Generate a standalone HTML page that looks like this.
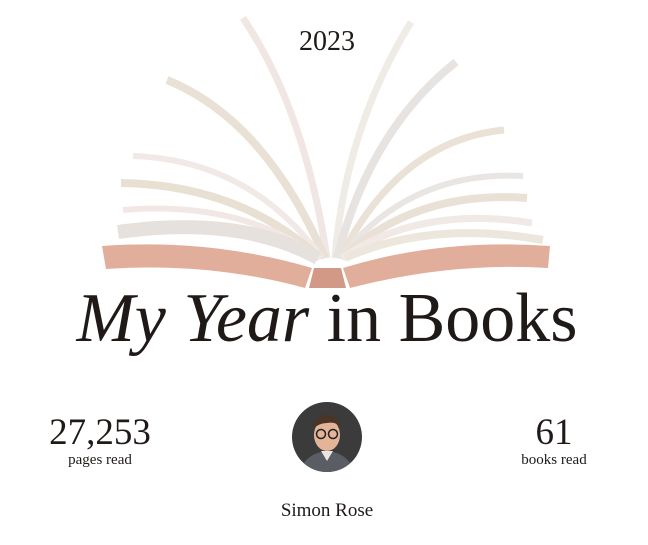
<!DOCTYPE html>
<html><head><meta charset="utf-8"><style>
body{margin:0;width:648px;height:545px;background:#fff;overflow:hidden;font-family:"Liberation Serif",serif;color:#1f1a17;position:relative}
.t{position:absolute;white-space:nowrap;text-align:center}
</style></head><body>
<svg width="648" height="300" style="position:absolute;left:0;top:0" fill="none" stroke-linecap="butt">
<g stroke-width="7">
<path d="M243,18 Q305,110 327,258" stroke="#f0e6e3"/>
<path d="M167,80 Q265,120 325,258" stroke="#eae1d6" stroke-width="8"/>
<path d="M133,156 Q250,160 322,258" stroke="#f1e9e6" stroke-width="6"/>
<path d="M121,183 Q240,185 320,258" stroke="#e9e0d4" stroke-width="8"/>
<path d="M123,210 Q240,200 320,258" stroke="#f1e7e4" stroke-width="6"/>
<path d="M118,232 Q240,215 318,258" stroke="#e6e1dd" stroke-width="14"/>
<path d="M411,22 Q345,130 335,258" stroke="#efece6"/>
<path d="M456,62 Q370,130 337,258" stroke="#e7e3e0" stroke-width="8"/>
<path d="M504,130 Q400,140 340,258" stroke="#ebe2d7"/>
<path d="M523,176 Q410,170 340,258" stroke="#e9e5e3" stroke-width="6"/>
<path d="M527,198 Q415,190 342,258" stroke="#eae1d6" stroke-width="8"/>
<path d="M532,223 Q420,205 342,258" stroke="#f1e9e6" stroke-width="7"/>
<path d="M543,240 Q430,220 345,258" stroke="#ece6dd" stroke-width="8"/>
</g>
<path d="M102,246 Q210,238 312,268 L305,288 Q210,262 106,269 Z" fill="#e2ae9c"/>
<path d="M314,268 L341,268 L346,288 L309,288 Z" fill="#d29a86"/>
<path d="M343,268 Q440,238 550,246 L548,268 Q450,262 350,288 Z" fill="#e2ae9c"/>
</svg>
<div class="t" style="left:0;width:654px;top:26px;font-size:28px">2023</div>
<div class="t" style="left:0;width:654px;top:279px;font-size:70px"><i>My Year</i> in Books</div>
<div class="t" style="left:0;width:200px;top:411px;font-size:37px">27,253</div>
<div class="t" style="left:0;width:200px;top:452px;font-size:15px">pages read</div>
<div class="t" style="left:454px;width:200px;top:411px;font-size:37px">61</div>
<div class="t" style="left:454px;width:200px;top:452px;font-size:15px">books read</div>
<svg width="72" height="72" style="position:absolute;left:291px;top:401px">
<defs><clipPath id="c"><circle cx="36" cy="36" r="35"/></clipPath></defs>
<g clip-path="url(#c)">
<rect width="72" height="72" fill="#3b3b3b"/>
<path d="M8,72 Q14,52 36,50 Q58,52 64,72 Z" fill="#5a5d63"/>
<path d="M30,50 L36,60 L42,50 Z" fill="#e9e6e2"/>
<ellipse cx="36" cy="34" rx="13" ry="16" fill="#e3b497"/>
<path d="M22,28 Q24,12 38,14 Q50,16 50,28 Q46,20 36,22 Q28,22 22,28 Z" fill="#4a3426"/>
<circle cx="30" cy="33" r="4.5" fill="none" stroke="#222" stroke-width="1.5"/>
<circle cx="42" cy="33" r="4.5" fill="none" stroke="#222" stroke-width="1.5"/>
</g></svg>
<div class="t" style="left:227px;width:200px;top:500px;font-size:19px">Simon Rose</div>
</body></html>
